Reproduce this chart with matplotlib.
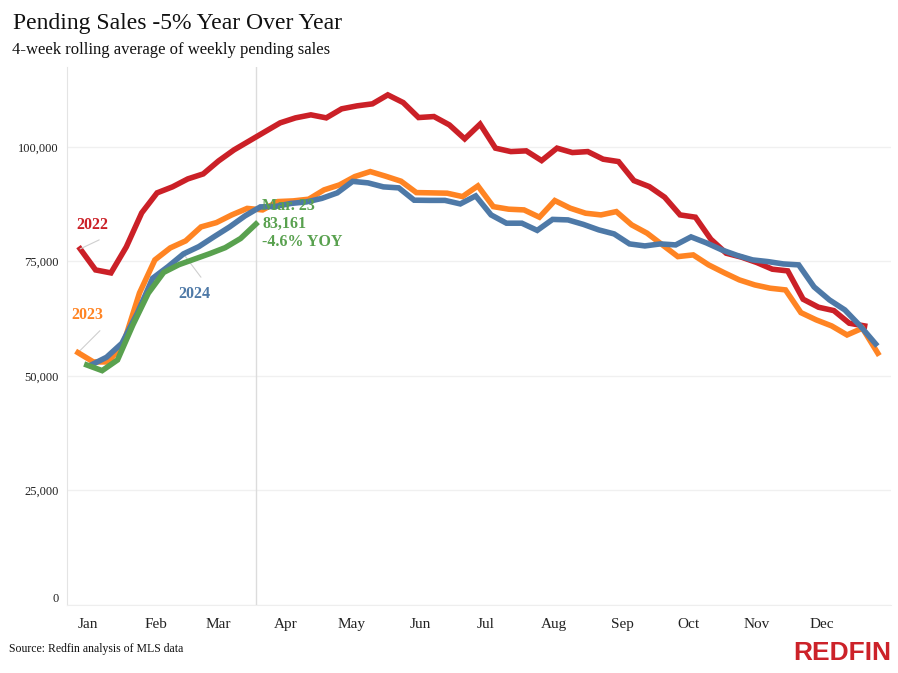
import numpy as np
import pandas as pd
import matplotlib
matplotlib.use("Agg")
import matplotlib.pyplot as plt
import matplotlib.transforms as mtransforms
from matplotlib.ticker import FuncFormatter

plt.rcParams['font.family'] = ['Liberation Serif', 'DejaVu Serif']

# weekly pending sales, 4-week rolling average
sales_2022 = [77730, 73140, 72490, 78170, 85590, 89960, 91270, 93010, 94100, 96940,
              99340, 101310, 103280, 105240, 106330, 106990, 106330, 108300, 108950, 109390,
              111350, 109670, 106400, 106620, 104800, 101750, 104960, 99720, 98970, 99130,
              97010, 99720, 98760, 98970, 97310, 96790, 92640, 91330, 89010, 85150,
              84650, 79850, 76790, 75920, 74740, 73300, 72930, 66750, 65000, 64260,
              61510, 60920]
sales_2023 = [55090, 53060, 53060, 57500, 68120, 75330, 77950, 79480, 82530, 83470,
              85150, 86570, 86240, 88060, 88210, 88580, 90610, 91700, 93520, 94610,
              93600, 92510, 90020, 89960, 89890, 89150, 91480, 86960, 86400, 86240,
              84650, 88280, 86620, 85520, 85150, 85870, 82970, 81160, 78600, 76050,
              76420, 74240, 72550, 70960, 69870, 69150, 68780, 63820, 62230, 60920,
              58950, 60420, 54960]
sales_2024 = [52400, 54080, 57140, 63690, 71330, 73870, 76640, 78230, 80410, 82530,
              84930, 86900, 87010, 87660, 87990, 88760, 89960, 92470, 92140, 91270,
              91050, 88360, 88320, 88320, 87550, 89300, 85150, 83340, 83340, 81770,
              84170, 84060, 83080, 81880, 81000, 78820, 78380, 78820, 78600, 80350,
              79040, 77510, 76310, 75330, 74960, 74450, 74240, 69430, 66590, 64410,
              60920, 56990]
sales_2025 = [52400, 51160, 53490, 61140, 68060, 72600, 74300, 75500, 76700, 78000,
              80000, 83161]

first_week = {'2022': '2022-01-02', '2023': '2023-01-01', '2024': '2024-01-07', '2025': '2025-01-05'}
months = ['Jan', 'Feb', 'Mar', 'Apr', 'May', 'Jun', 'Jul', 'Aug', 'Sep', 'Oct', 'Nov', 'Dec']
y_ticks = [0, 25000, 50000, 75000, 100000]

RED = '#CB2027'
ORANGE = '#FF8423'
BLUE = '#4E79A7'
GREEN = '#59A14F'


def day_of_year(year, n):
    d = pd.date_range(first_week[year], periods=n, freq='7D')
    return np.asarray(d.dayofyear) - 1


fig = plt.figure(figsize=(8.98, 6.73), dpi=100)
ax = fig.add_axes([0.0746, 0.101, 0.9176, 0.7999])

x22 = day_of_year('2022', len(sales_2022))
x23 = day_of_year('2023', len(sales_2023))
x24 = day_of_year('2024', len(sales_2024))
x25 = day_of_year('2025', len(sales_2025))

# reference line at latest week
ax.axvline(x25[-1], color='#dcdcdc', lw=1, zorder=1)

lw = 4
ax.plot(x22, sales_2022, color=RED, lw=lw, solid_joinstyle='miter', zorder=3)
ax.plot(x23, sales_2023, color=ORANGE, lw=lw, solid_joinstyle='miter', zorder=4)
ax.plot(x24, sales_2024, color=BLUE, lw=lw, solid_joinstyle='miter', zorder=5)
ax.plot(x25, sales_2025, color=GREEN, lw=lw, solid_joinstyle='miter', zorder=6)

ax.set_xlim(-5, 370)
ax.set_ylim(0, 117500)

# month labels sit a few days after the first of each month
month_starts = pd.date_range('2023-01-01', periods=12, freq='MS').dayofyear - 1
ax.set_xticks(np.asarray(month_starts) + 4.7)
ax.set_xticklabels(months, fontsize=11, color='#222222')
ax.set_yticks(y_ticks)
ax.yaxis.set_major_formatter(FuncFormatter(lambda v, p: f'{v:,.0f}'))
ax.tick_params(axis='y', labelsize=9, labelcolor='#222222')
ax.tick_params(axis='both', length=0)
ax.tick_params(axis='x', pad=9)
ax.tick_params(axis='y', pad=6)

# zero label is nudged up a little, as in the original
fig.canvas.draw()
zero_lab = ax.get_yticklabels()[0]
zero_lab.set_transform(zero_lab.get_transform() + mtransforms.ScaledTranslation(0, 8 / 100, fig.dpi_scale_trans))

ax.grid(axis='y', color='#f0f0f0', lw=1)
ax.set_axisbelow(True)
for s in ['top', 'right']:
    ax.spines[s].set_visible(False)
ax.spines['left'].set_color('#e4e4e4')
ax.spines['bottom'].set_color('#eeeeee')

# series labels with thin leader lines
leader = dict(arrowstyle='-', color='#cfcfcf', lw=0.8, shrinkA=0, shrinkB=0)
lab_font = dict(fontsize=11.5, fontweight='bold', ha='center', va='center')

ax.annotate('', xy=(x22[0], sales_2022[0]), xytext=(13.7, 6.5), textcoords='offset points', arrowprops=leader)
ax.annotate('2022', xy=(x22[0], sales_2022[0]), xytext=(9, 17.3), textcoords='offset points',
            color=RED, **lab_font)

ax.annotate('', xy=(x23[0], sales_2023[0]), xytext=(15.8, 15.8), textcoords='offset points', arrowprops=leader)
ax.annotate('2023', xy=(x23[0], sales_2023[0]), xytext=(6.7, 27.4), textcoords='offset points',
            color=ORANGE, **lab_font)

ax.annotate('', xy=(x24[6], sales_2024[6]), xytext=(12.6, -16.8), textcoords='offset points', arrowprops=leader)
ax.annotate('2024', xy=(x24[6], sales_2024[6]), xytext=(7.9, -28.8), textcoords='offset points',
            color=BLUE, **lab_font)

ax.annotate(f"Mar. 23\n{sales_2025[-1]:,}\n-4.6% YOY", xy=(x25[-1], sales_2025[-1]),
            xytext=(4.5, 0), textcoords='offset points', color=GREEN, fontsize=11.5,
            fontweight='bold', ha='left', va='center', linespacing=1.2, zorder=8)

fig.text(13 / 898, 1 - 24 / 673, 'Pending Sales -5% Year Over Year', fontsize=17,
         ha='left', va='center', color='#111111')
fig.text(12 / 898, 1 - 50 / 673, '4-week rolling average of weekly pending sales', fontsize=12,
         ha='left', va='center', color='#111111')
fig.text(9 / 898, 1 - 649 / 673, 'Source: Redfin analysis of MLS data', fontsize=8.5,
         ha='left', va='center', color='#111111')
fig.text(891 / 898, 1 - 653 / 673, 'REDFIN', fontsize=19, fontweight='bold', color='#CC2229',
         family=['Liberation Sans Narrow', 'Liberation Sans', 'DejaVu Sans'],
         ha='right', va='center')

fig.savefig('out.png', dpi=100)
